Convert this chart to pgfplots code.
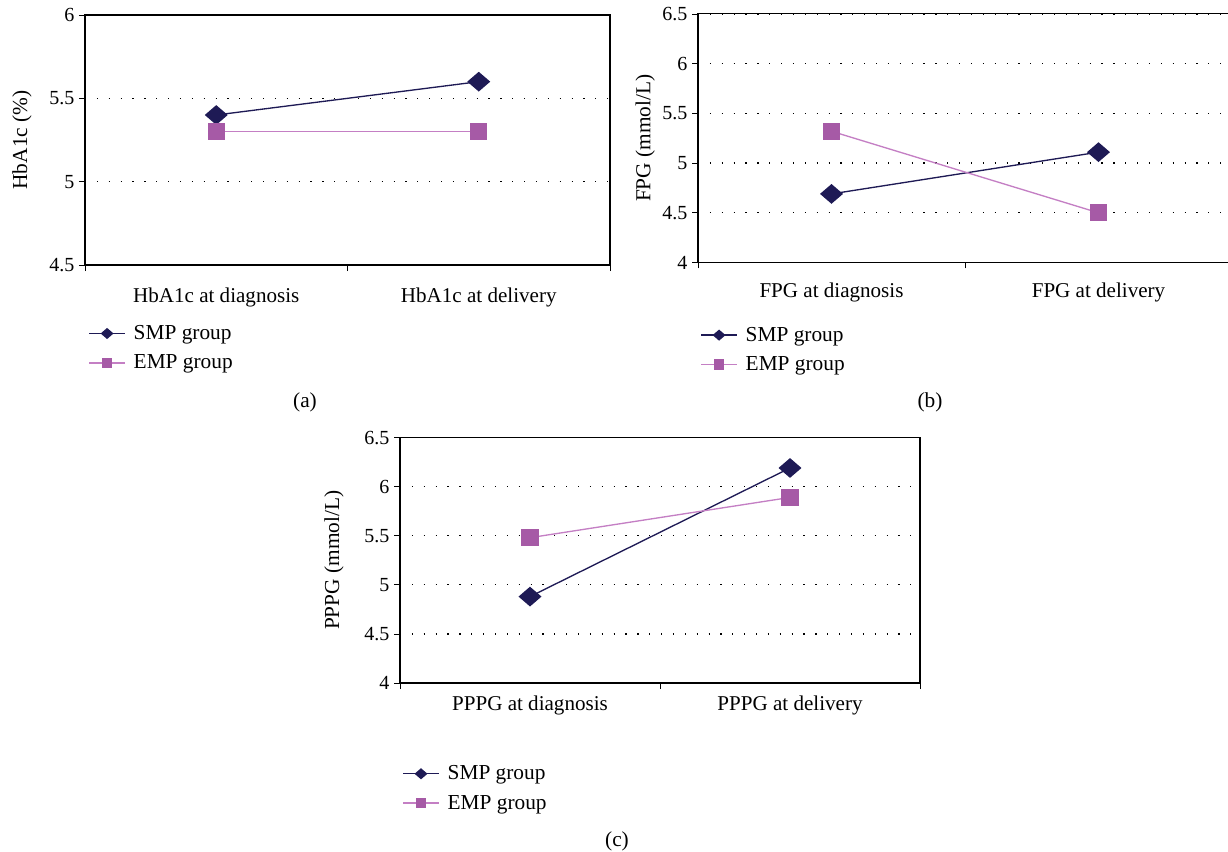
\documentclass[border=0pt]{standalone}
\usepackage{fontspec}
\setmainfont{Liberation Serif}
\usepackage{pgfplots}
\pgfplotsset{compat=1.18}

\definecolor{smp}{HTML}{1E1A55}
\definecolor{empm}{HTML}{A65AA6}
\definecolor{empl}{HTML}{C47FC4}

\pgfplotsset{
  panel/.style={
    scale only axis,
    xmin=-0.5, xmax=1.5,
    xtick={-0.5,0.5,1.5}, xticklabels={},
    extra x ticks={0,1},
    extra x tick style={major tick length=0pt},
    xtick pos=bottom, ytick pos=left,
    tick align=outside,
    major tick length=4.5pt,
    tick style={black, line width=0.6pt},
    axis line style={black, line width=0.8pt},
    ymajorgrids,
    grid style={black, line width=0.9pt, dash pattern=on 0.9pt off 8pt},
    yticklabel style={font=\fontsize{15}{17}\selectfont},
    xticklabel style={font=\fontsize{15.8}{18}\selectfont, yshift=-14pt},
    label style={font=\fontsize{16}{18}\selectfont},
    /pgf/number format/assume math mode=true,
    legend style={draw=none, fill=none, font=\fontsize{16}{19}\selectfont, anchor=north west, legend cell align=left, row sep=6pt, column sep=4pt, inner sep=0pt},
    legend image code/.code={\draw[mark repeat=2,mark phase=2,#1,mark size=3.5pt] plot coordinates {(0pt,0pt) (13.5pt,0pt) (27pt,0pt)};},
  },
  smpstyle/.style={color=smp, line width=1pt, mark=diamond*, mark size=6.75pt, mark options={xscale=1.55, solid, fill=smp, draw=smp}},
  empstyle/.style={color=empl, line width=1pt, mark=square*, mark size=6pt, mark options={solid, fill=empm, draw=empm}},
}

\begin{document}
\begin{tikzpicture}
\useasboundingbox (0pt,0pt) rectangle (921pt,638.25pt);

% (a)
\begin{axis}[panel, at={(63.75pt,439.5pt)}, anchor=south west,
  width=393.75pt, height=187.5pt,
  ymin=4.5, ymax=6, ytick={4.5,5,5.5,6}, yticklabels={4.5,5,5.5,6},
  extra x tick labels={HbA1c at diagnosis, HbA1c at delivery},
  ylabel={HbA1c (\%)}, ylabel style={at={(axis description cs:-0.12,0.5)}, anchor=center},
  legend style={at={(axis description cs:0.006,-0.23)}}]
\addplot[smpstyle] coordinates {(0,5.4) (1,5.6)};
\addlegendentry{SMP group}
\addplot[empstyle] coordinates {(0,5.3) (1,5.3)};
\addlegendentry{EMP group}
\end{axis}

% (b)
\begin{axis}[panel, at={(523.5pt,441.375pt)}, anchor=south west,
  width=400.5pt, height=186.4pt,
  ymin=4, ymax=6.5, ytick={4,4.5,5,5.5,6,6.5}, yticklabels={4,4.5,5,5.5,6,6.5},
  extra x tick labels={FPG at diagnosis, FPG at delivery},
  xticklabel style={yshift=2pt},
  ylabel={FPG (mmol/L)}, ylabel style={at={(axis description cs:-0.099,0.5)}, anchor=center},
  legend style={at={(axis description cs:0.004,-0.248)}}]
\addplot[smpstyle] coordinates {(0,4.69) (1,5.11)};
\addlegendentry{SMP group}
\addplot[empstyle] coordinates {(0,5.32) (1,4.5)};
\addlegendentry{EMP group}
\end{axis}

% (c)
\begin{axis}[panel, at={(300pt,126pt)}, anchor=south west,
  width=390pt, height=184.1pt,
  ymin=4, ymax=6.5, ytick={4,4.5,5,5.5,6,6.5}, yticklabels={4,4.5,5,5.5,6,6.5},
  extra x tick labels={PPPG at diagnosis, PPPG at delivery},
  xticklabel style={yshift=7.5pt},
  ylabel={PPPG (mmol/L)}, ylabel style={at={(axis description cs:-0.127,0.5)}, anchor=center},
  legend style={at={(axis description cs:0.004,-0.325)}}]
\addplot[smpstyle] coordinates {(0,4.88) (1,6.19)};
\addlegendentry{SMP group}
\addplot[empstyle] coordinates {(0,5.48) (1,5.89)};
\addlegendentry{EMP group}
\end{axis}

\node[font=\fontsize{16}{18}\selectfont] at (228.75pt,336.75pt) {(a)};
\node[font=\fontsize{16}{18}\selectfont] at (697.5pt,336.75pt) {(b)};
\node[font=\fontsize{16}{18}\selectfont] at (462.75pt,7.5pt) {(c)};
\end{tikzpicture}
\end{document}
